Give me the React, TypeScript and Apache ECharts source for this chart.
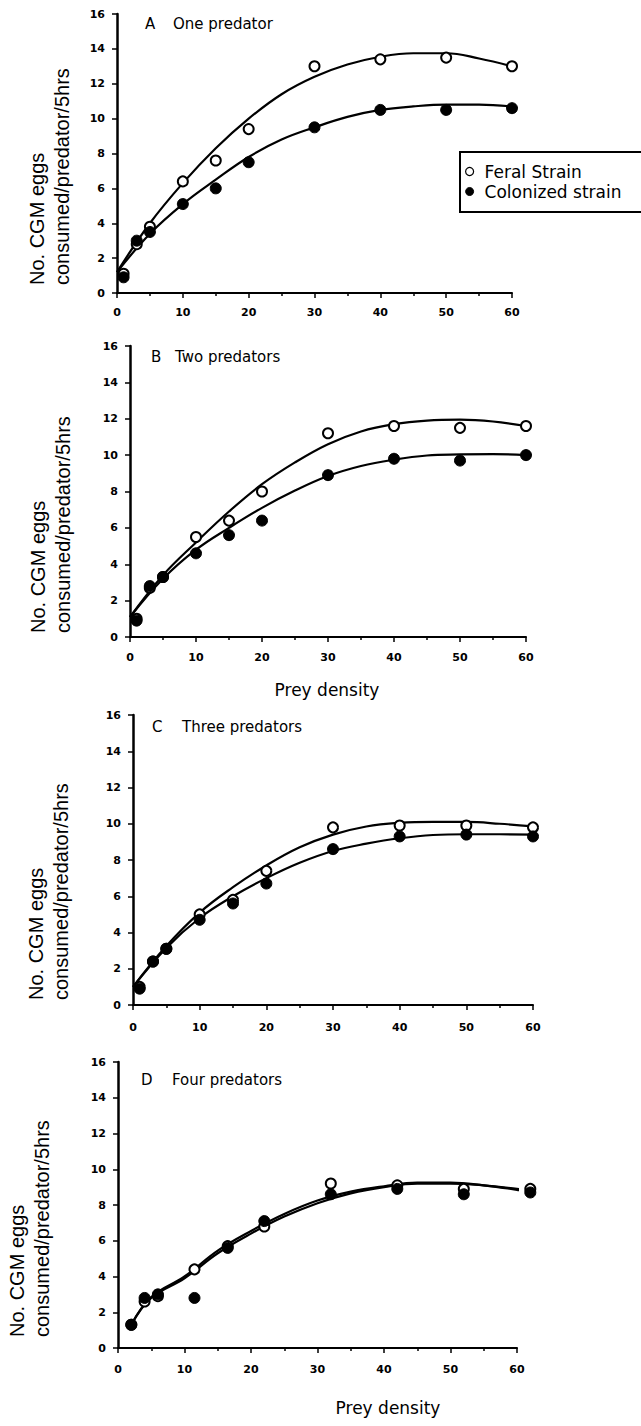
import React, { useEffect, useRef } from "react";
import * as echarts from "echarts";

// Prey densities at which points are plotted
const preyDensity = [1, 3, 5, 10, 15, 20, 30, 40, 50, 60];
const preyDensityD = [2, 4, 6, 11.5, 16.5, 22, 32, 42, 52, 62];
const fitX = [0, 5, 10, 15, 20, 25, 30, 35, 40, 45, 50, 55, 60];
const fitXD = [2, 5, 10, 15, 20, 25, 30, 35, 40, 45, 50, 55, 60, 62];

// Panel A: one predator
const feralA = [1.1, 2.8, 3.8, 6.4, 7.6, 9.4, 13.0, 13.4, 13.5, 13.0];
const colonA = [0.9, 3.0, 3.5, 5.1, 6.0, 7.5, 9.5, 10.5, 10.5, 10.6];
const feralFitA = [1.2, 4.0, 6.3, 8.3, 10.0, 11.4, 12.4, 13.1, 13.55, 13.75, 13.75, 13.45, 13.0];
const colonFitA = [1.2, 3.4, 5.1, 6.5, 7.8, 8.8, 9.5, 10.1, 10.5, 10.7, 10.8, 10.8, 10.7];

// Panel B: two predators
const feralB = [1.0, 2.7, 3.3, 5.5, 6.4, 8.0, 11.2, 11.6, 11.5, 11.6];
const colonB = [0.9, 2.8, 3.3, 4.6, 5.6, 6.4, 8.9, 9.8, 9.7, 10.0];
const feralFitB = [1.1, 3.4, 5.2, 6.9, 8.4, 9.6, 10.6, 11.3, 11.7, 11.9, 11.95, 11.85, 11.6];
const colonFitB = [1.1, 3.2, 4.8, 6.0, 7.1, 8.05, 8.85, 9.4, 9.75, 9.98, 10.04, 10.06, 10.0];

// Panel C: three predators
const feralC = [1.0, 2.4, 3.1, 5.0, 5.8, 7.4, 9.8, 9.9, 9.9, 9.8];
const colonC = [0.9, 2.4, 3.1, 4.7, 5.6, 6.7, 8.6, 9.3, 9.4, 9.3];
const feralFitC = [1.0, 3.25, 5.1, 6.5, 7.7, 8.7, 9.4, 9.85, 10.05, 10.1, 10.1, 10.0, 9.85];
const colonFitC = [1.0, 3.15, 4.8, 6.0, 7.0, 7.85, 8.5, 8.9, 9.2, 9.38, 9.42, 9.42, 9.4];

// Panel D: four predators
const feralD = [1.3, 2.6, 2.9, 4.4, 5.7, 6.8, 9.2, 9.1, 8.9, 8.9];
const colonD = [1.3, 2.8, 3.0, 2.8, 5.6, 7.1, 8.6, 8.9, 8.6, 8.7];
const feralFitD = [1.3, 2.8, 3.9, 5.3, 6.4, 7.35, 8.1, 8.65, 9.0, 9.2, 9.2, 9.1, 8.9, 8.8];
const colonFitD = [1.3, 2.85, 4.0, 5.45, 6.55, 7.5, 8.25, 8.75, 9.05, 9.25, 9.25, 9.1, 8.85, 8.7];

const panelLetters = ["A", "B", "C", "D"];
const panelTitles = ["One predator", "Two predators", "Three predators", "Four predators"];
const yTickMax = 16;
const yTickStep = 2;
const xTickMax = 60;
const xTickStep = 10;
const seriesNames = ["Feral Strain", "Colonized strain"];
const yTitle = "No. CGM eggs\nconsumed/predator/5hrs";
const xTitle = "Prey density";

const FONT = "'DejaVu Sans', 'Liberation Sans', Arial, sans-serif";
const YFONT = "'Liberation Sans', Arial, Helvetica, sans-serif";

const grids = [
  { left: 117, top: 14, width: 395, height: 279 },
  { left: 130, top: 346, width: 396, height: 291 },
  { left: 133, top: 715, width: 400, height: 290 },
  { left: 118, top: 1062, width: 399, height: 286 },
];

const titlePos = [
  { lx: 145, nx: 173, y: 24 },
  { lx: 151, nx: 175, y: 357 },
  { lx: 152, nx: 182, y: 727 },
  { lx: 141, nx: 172, y: 1080 },
];

const yTitlePos = [
  { x: 24, y: 285 },
  { x: 25, y: 633 },
  { x: 23, y: 1000 },
  { x: 4, y: 1337 },
];

const xTitlePos = [
  { x: 327, y: 690 },
  { x: 388, y: 1408 },
];

const xLabelMargin = [14, 15, 17, 16];

export default function App() {
  const ref = useRef<HTMLDivElement>(null);

  useEffect(() => {
    document.body.style.margin = "0";
    if (!ref.current) return;
    const chart = echarts.init(ref.current, undefined, { renderer: "svg" });

    const panels = [
      { px: preyDensity, fx: fitX, f: feralA, c: colonA, ff: feralFitA, cf: colonFitA },
      { px: preyDensity, fx: fitX, f: feralB, c: colonB, ff: feralFitB, cf: colonFitB },
      { px: preyDensity, fx: fitX, f: feralC, c: colonC, ff: feralFitC, cf: colonFitC },
      { px: preyDensityD, fx: fitXD, f: feralD, c: colonD, ff: feralFitD, cf: colonFitD },
    ];

    const labelStyle = {
      fontFamily: FONT,
      fontWeight: "bold" as const,
      fontSize: 11,
      color: "#000",
    };

    const xAxis = grids.map((_, i) => ({
      type: "value",
      gridIndex: i,
      min: 0,
      max: xTickMax,
      interval: xTickStep,
      axisLine: { show: true, onZero: false, lineStyle: { color: "#000", width: 2 } },
      axisTick: { show: true, length: 5, lineStyle: { color: "#000", width: 1.5 } },
      minorTick: { show: true, splitNumber: 2, length: 3, lineStyle: { color: "#000", width: 1.5 } },
      axisLabel: { ...labelStyle, margin: xLabelMargin[i] },
      splitLine: { show: false },
    }));

    const yAxis = grids.map((_, i) => ({
      type: "value",
      gridIndex: i,
      min: 0,
      max: yTickMax,
      interval: yTickStep,
      axisLine: { show: true, onZero: false, lineStyle: { color: "#000", width: 2.5 } },
      axisTick: { show: true, length: 5, lineStyle: { color: "#000", width: 1.5 } },
      axisLabel: { ...labelStyle, margin: 12 },
      splitLine: { show: false },
    }));

    const series: any[] = [];
    panels.forEach((p, i) => {
      series.push({
        type: "line",
        name: "Feral fit " + panelLetters[i],
        xAxisIndex: i,
        yAxisIndex: i,
        data: p.fx.map((x, j) => [x, p.ff[j]]),
        smooth: 0.4,
        symbol: "none",
        clip: false,
        lineStyle: { color: "#000", width: 2.2 },
        z: 2,
      });
      series.push({
        type: "line",
        name: "Colonized fit " + panelLetters[i],
        xAxisIndex: i,
        yAxisIndex: i,
        data: p.fx.map((x, j) => [x, p.cf[j]]),
        smooth: 0.4,
        symbol: "none",
        clip: false,
        lineStyle: { color: "#000", width: 2.2 },
        z: 2,
      });
      series.push({
        type: "scatter",
        name: seriesNames[0],
        xAxisIndex: i,
        yAxisIndex: i,
        data: p.px.map((x, j) => [x, p.f[j]]),
        symbol: "circle",
        symbolSize: 10,
        clip: false,
        itemStyle: { color: "#fff", borderColor: "#000", borderWidth: 2, opacity: 1 },
        z: 3,
      });
      series.push({
        type: "scatter",
        name: seriesNames[1],
        xAxisIndex: i,
        yAxisIndex: i,
        data: p.px.map((x, j) => [x, p.c[j]]),
        symbol: "circle",
        symbolSize: 11,
        clip: false,
        itemStyle: { color: "#000", borderColor: "#000", borderWidth: 1, opacity: 1 },
        z: 4,
      });
    });

    const graphic: any[] = [];
    // legend frame, running off the right edge as in the reference (open on the right)
    graphic.push({
      type: "polyline",
      z: 0,
      shape: { points: [[680, 152], [460, 152], [460, 212], [680, 212]] },
      style: { fill: "none", stroke: "#000", lineWidth: 2 },
    });
    titlePos.forEach((t, i) => {
      graphic.push({
        type: "text",
        x: t.lx,
        y: t.y,
        style: { text: panelLetters[i], font: `15px ${FONT}`, fill: "#000", verticalAlign: "middle", align: "left" },
      });
      graphic.push({
        type: "text",
        x: t.nx,
        y: t.y,
        style: { text: panelTitles[i], font: `15px ${FONT}`, fill: "#000", verticalAlign: "middle", align: "left" },
      });
    });
    yTitlePos.forEach((p) => {
      graphic.push({
        type: "text",
        x: p.x,
        y: p.y,
        rotation: Math.PI / 2,
        style: {
          text: yTitle,
          font: `20px ${YFONT}`,
          lineHeight: 25,
          fill: "#000",
          align: "left",
          verticalAlign: "top",
        },
      });
    });
    xTitlePos.forEach((p) => {
      graphic.push({
        type: "text",
        x: p.x,
        y: p.y,
        style: { text: xTitle, font: `17px ${FONT}`, fill: "#000", align: "center", verticalAlign: "middle" },
      });
    });

    chart.setOption({
      animation: false,
      backgroundColor: "#fff",
      grid: grids.map((g) => ({ ...g, containLabel: false, outerBoundsMode: "none" })),
      xAxis,
      yAxis,
      legend: {
        show: true,
        z: 10,
        orient: "vertical",
        left: 460,
        top: 152,
        padding: [11, 10, 11, 5],
        itemGap: 3,
        itemWidth: 20,
        itemHeight: 8,
        borderWidth: 0,
        selectedMode: false,
        textStyle: { fontFamily: FONT, fontSize: 17, color: "#000" },
        data: [
          { name: seriesNames[0], icon: "circle", itemStyle: { color: "#fff", borderColor: "#000", borderWidth: 1.2 } },
          { name: seriesNames[1], icon: "circle", itemStyle: { color: "#000", borderColor: "#000", borderWidth: 1 } },
        ],
      },
      graphic,
      series,
    });

    return () => chart.dispose();
  }, []);

  return <div ref={ref} style={{ width: 641, height: 1426, position: "absolute", left: 0, top: 0 }} />;
}
